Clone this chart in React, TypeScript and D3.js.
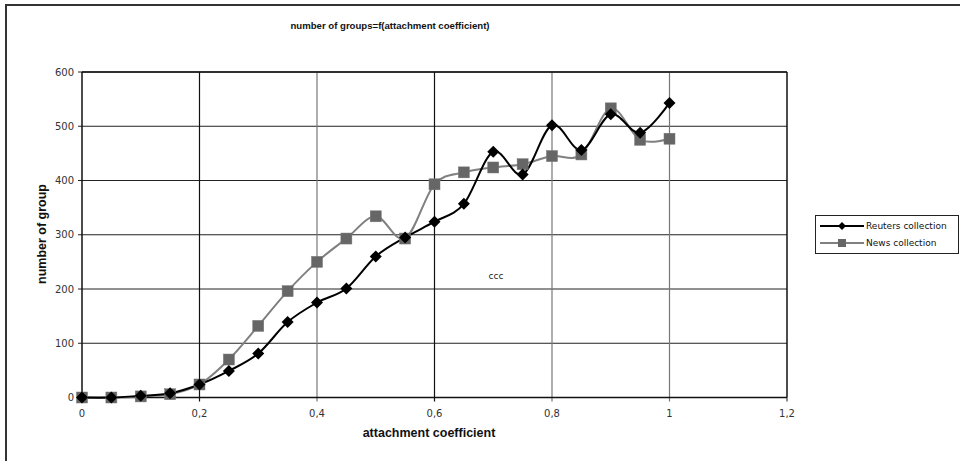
import React from "react";
import * as d3 from "d3";

const xValues = [0, 0.05, 0.1, 0.15, 0.2, 0.25, 0.3, 0.35, 0.4, 0.45, 0.5, 0.55, 0.6, 0.65, 0.7, 0.75, 0.8, 0.85, 0.9, 0.95, 1.0];
const reuters = [0, 0, 3, 8, 24, 49, 81, 139, 175, 201, 260, 295, 324, 357, 453, 411, 502, 456, 522, 488, 543];
const news = [0, 0, 2, 6, 24, 70, 132, 196, 250, 293, 334, 293, 393, 415, 424, 430, 445, 448, 533, 475, 477];
const xTicks = [0, 0.2, 0.4, 0.6, 0.8, 1.0, 1.2];
const yTicks = [0, 100, 200, 300, 400, 500, 600];
const seriesNames = ["Reuters collection", "News collection"];

const W = 960, H = 461;
const plot = { left: 82, right: 787, top: 72, bottom: 397.5 };

const fmt = (v: number) => String(v).replace(".", ",");

export default function App() {
  const x = d3.scaleLinear().domain([0, 1.2]).range([plot.left, plot.right]);
  const y = d3.scaleLinear().domain([0, 600]).range([plot.bottom, plot.top]);
  const line = d3
    .line<[number, number]>()
    .x((d) => x(d[0]))
    .y((d) => y(d[1]))
    .curve(d3.curveCatmullRom.alpha(0));
  const rPts = xValues.map((v, i) => [v, reuters[i]] as [number, number]);
  const nPts = xValues.map((v, i) => [v, news[i]] as [number, number]);
  const vGridColor = (t: number) => (Math.abs(t - 0.2) < 1e-9 || Math.abs(t - 0.6) < 1e-9 ? "#111" : "#777");
  const diamond = (cx: number, cy: number, r: number) => `M${cx},${cy - r}L${cx + r},${cy}L${cx},${cy + r}L${cx - r},${cy}Z`;
  const sq = 11;
  const gray = "#808080";
  const sqFill = "#666";
  const font = "'DejaVu Sans', Verdana, sans-serif";

  return (
    <svg width={W} height={H} style={{ position: "absolute", left: 0, top: 0, background: "#fff" }} fontFamily={font}>
      <rect x={0} y={0} width={W} height={H} fill="#fff" />
      {/* outer frame (extends beyond viewport) */}
      <rect x={6} y={5} width={1000} height={500} fill="none" stroke="#333" strokeWidth={2} />
      <text x={390} y={29} textAnchor="middle" fontFamily="'Liberation Sans', Arial, sans-serif" fontWeight="bold" fontSize={9.6} fill="#111">
        number of groups=f(attachment coefficient)
      </text>
      {/* horizontal grid */}
      {yTicks.map((t) => (
        <g key={"h" + t}>
          <line x1={plot.left} x2={plot.right} y1={y(t)} y2={y(t)} stroke="#222" strokeWidth={1} />
          <line x1={plot.left - 4} x2={plot.left} y1={y(t)} y2={y(t)} stroke="#222" strokeWidth={1} />
          <text x={plot.left - 8} y={y(t)} dy="0.35em" textAnchor="end" fontSize={10} fill="#333">
            {t}
          </text>
        </g>
      ))}
      {/* vertical grid */}
      {xTicks.map((t) => (
        <g key={"v" + t}>
          {t > 0 && t < 1.2 && (
            <line x1={x(t)} x2={x(t)} y1={plot.top} y2={plot.bottom + 4} stroke={vGridColor(t)} strokeWidth={1.2} />
          )}
          {(t === 0 || t === 1.2) && (
            <line x1={x(t)} x2={x(t)} y1={plot.bottom} y2={plot.bottom + 4} stroke="#222" strokeWidth={1} />
          )}
          <text x={x(t)} y={plot.bottom + 19} textAnchor="middle" fontSize={10} fill="#333">
            {fmt(t)}
          </text>
        </g>
      ))}
      {/* axes */}
      <line x1={plot.left} x2={plot.left} y1={plot.top} y2={plot.bottom} stroke="#111" strokeWidth={1.5} />
      <line x1={plot.right} x2={plot.right} y1={plot.top} y2={plot.bottom} stroke="#111" strokeWidth={1.5} />
      <line x1={plot.left} x2={plot.right} y1={plot.bottom} y2={plot.bottom} stroke="#111" strokeWidth={1.5} />
      <line x1={plot.left} x2={plot.right} y1={plot.top} y2={plot.top} stroke="#111" strokeWidth={1.5} />
      {/* series */}
      <path d={line(nPts) || ""} fill="none" stroke={gray} strokeWidth={2} />
      <path d={line(rPts) || ""} fill="none" stroke="#000" strokeWidth={2} />
      {nPts.map((p, i) => (
        <rect key={"n" + i} x={x(p[0]) - sq / 2} y={y(p[1]) - sq / 2} width={sq} height={sq} fill={sqFill} stroke="#777" strokeWidth={0.5} />
      ))}
      {rPts.map((p, i) => (
        <path key={"r" + i} d={diamond(x(p[0]), y(p[1]), 6)} fill="#000" />
      ))}
      <text x={496} y={279} textAnchor="middle" fontSize={9} fill="#222">
        ccc
      </text>
      {/* axis titles */}
      <text x={429} y={437} textAnchor="middle" fontFamily="'Liberation Sans', Arial, sans-serif" fontWeight="bold" fontSize={12.5} fill="#111">
        attachment coefficient
      </text>
      <text transform={`translate(46,234) rotate(-90)`} textAnchor="middle" fontFamily="'Liberation Sans', Arial, sans-serif" fontWeight="bold" fontSize={12.5} fill="#111">
        number of group
      </text>
      {/* legend */}
      <rect x={815.5} y={215.5} width={143} height={38} fill="#fff" stroke="#222" strokeWidth={1} />
      <line x1={820} x2={864} y1={226} y2={226} stroke="#000" strokeWidth={2} />
      <path d={diamond(842, 226, 4)} fill="#000" />
      <text x={866} y={226} dy="0.35em" fontSize={9} fill="#111">
        {seriesNames[0]}
      </text>
      <line x1={820} x2={864} y1={243} y2={243} stroke={gray} strokeWidth={2} />
      <rect x={838} y={239} width={8} height={8} fill={sqFill} />
      <text x={866} y={243} dy="0.35em" fontSize={9} fill="#111">
        {seriesNames[1]}
      </text>
    </svg>
  );
}
